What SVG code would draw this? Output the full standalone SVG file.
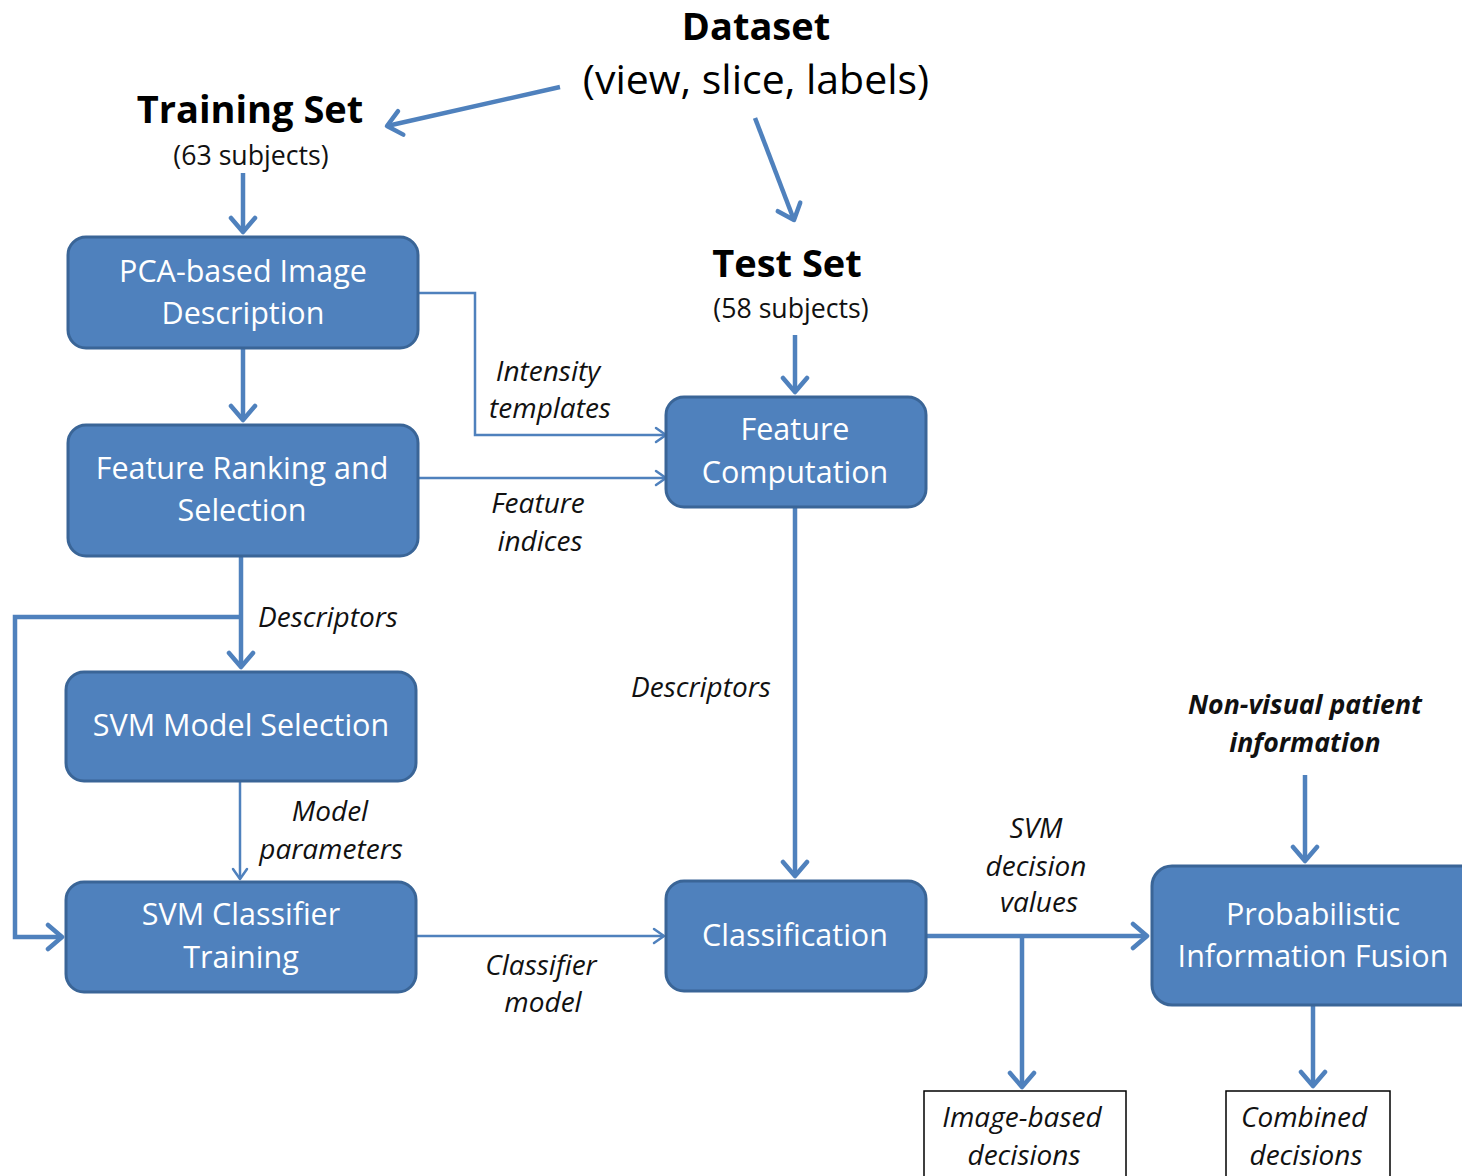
<svg xmlns="http://www.w3.org/2000/svg" width="1462" height="1176" viewBox="0 0 1462 1176">
<defs>
<style>
.box{fill:#4F81BD;stroke:#3A6597;stroke-width:3}
.wbox{fill:#fff;stroke:#000;stroke-width:1.5}
.bt{font-family:"Open Sans",Lato,sans-serif;font-size:30.5px;fill:#fff;text-anchor:middle}
.lbl{font-family:"Open Sans",Lato,sans-serif;font-size:28px;font-style:italic;fill:#111;text-anchor:middle}
.head{font-family:"Open Sans",Lato,sans-serif;font-size:38px;font-weight:bold;fill:#000;text-anchor:middle}
.sub{font-family:"Open Sans",Lato,sans-serif;font-size:26.7px;fill:#111;text-anchor:middle}
.thick{fill:none;stroke:#4F81BD;stroke-width:4.5;marker-end:url(#ah)}
.thin{fill:none;stroke:#4F81BD;stroke-width:2.5;marker-end:url(#at)}
</style>
<marker id="ah" markerUnits="userSpaceOnUse" markerWidth="30" markerHeight="30" viewBox="-16 -15 20 30" refX="0" refY="0" orient="auto">
<path d="M-14,-12 L0,0 L-14,12" fill="none" stroke="#4F81BD" stroke-width="4.5" stroke-linecap="round" stroke-linejoin="round"/>
</marker>
<marker id="at" markerUnits="userSpaceOnUse" markerWidth="20" markerHeight="20" viewBox="-12 -10 14 20" refX="0" refY="0" orient="auto">
<path d="M-10,-7 L0,0 L-10,7" fill="none" stroke="#4F81BD" stroke-width="2.5" stroke-linecap="round" stroke-linejoin="round"/>
</marker>
</defs>
<rect width="1462" height="1176" fill="#fff"/>

<g id="connectors">
<line class="thick" x1="560" y1="87" x2="387" y2="126"/>
<line class="thick" x1="755" y1="118" x2="794" y2="220"/>
<line class="thick" x1="243" y1="173" x2="243" y2="232"/>
<line class="thick" x1="243" y1="349" x2="243" y2="420"/>
<line class="thick" x1="795" y1="335" x2="795" y2="392"/>
<polyline class="thin" points="418,293 475,293 475,435 666,435"/>
<line class="thin" x1="418" y1="478" x2="666" y2="478"/>
<line class="thick" x1="241" y1="557" x2="241" y2="667"/>
<polyline class="thick" points="241,617 15,617 15,937 62,937"/>
<line class="thin" x1="240" y1="782" x2="240" y2="879"/>
<line class="thin" x1="417" y1="936" x2="664" y2="936"/>
<line class="thick" x1="795" y1="508" x2="795" y2="876"/>
<line class="thick" x1="926" y1="936" x2="1147" y2="936"/>
<line class="thick" x1="1022" y1="936" x2="1022" y2="1087"/>
<line class="thick" x1="1305" y1="775" x2="1305" y2="861"/>
<line class="thick" x1="1313" y1="1006" x2="1313" y2="1086"/>
</g>

<g id="dataset">
<text class="head" x="756" y="40">Dataset</text>
<text class="head" x="756" y="94" style="font-weight:normal;font-size:41px">(view, slice, labels)</text>
</g>
<g id="training-set">
<text class="head" x="250" y="123">Training Set</text>
<text class="sub" x="251" y="165">(63 subjects)</text>
</g>
<g id="test-set">
<text class="head" x="787" y="277">Test Set</text>
<text class="sub" x="791" y="318">(58 subjects)</text>
</g>

<g id="pca">
<rect class="box" x="68" y="237" width="350" height="111" rx="18"/>
<text class="bt" x="243" y="282">PCA-based Image</text>
<text class="bt" x="243" y="324">Description</text>
</g>
<g id="ranking">
<rect class="box" x="68" y="425" width="350" height="131" rx="18"/>
<text class="bt" x="242" y="479">Feature Ranking and</text>
<text class="bt" x="242" y="521">Selection</text>
</g>
<g id="svm-model">
<rect class="box" x="66" y="672" width="350" height="109" rx="18"/>
<text class="bt" x="241" y="736">SVM Model Selection</text>
</g>
<g id="svm-train">
<rect class="box" x="66" y="882" width="350" height="110" rx="18"/>
<text class="bt" x="241" y="925">SVM Classifier</text>
<text class="bt" x="241" y="968">Training</text>
</g>
<g id="feature-comp">
<rect class="box" x="666" y="397" width="260" height="110" rx="18"/>
<text class="bt" x="795" y="440">Feature</text>
<text class="bt" x="795" y="483">Computation</text>
</g>
<g id="classification">
<rect class="box" x="666" y="881" width="260" height="110" rx="18"/>
<text class="bt" x="795" y="946">Classification</text>
</g>
<g id="fusion">
<rect class="box" x="1152" y="866" width="330" height="139" rx="20"/>
<text class="bt" x="1313" y="925">Probabilistic</text>
<text class="bt" x="1313" y="967">Information Fusion</text>
</g>
<g id="image-decisions">
<rect class="wbox" x="924" y="1091" width="202" height="95"/>
<text class="lbl" x="1022" y="1127">Image-based</text>
<text class="lbl" x="1024" y="1165">decisions</text>
</g>
<g id="combined-decisions">
<rect class="wbox" x="1226" y="1091" width="164" height="95"/>
<text class="lbl" x="1304" y="1127">Combined</text>
<text class="lbl" x="1306" y="1165">decisions</text>
</g>

<g id="labels">
<text class="lbl" x="548" y="381">Intensity</text>
<text class="lbl" x="550" y="418">templates</text>
<text class="lbl" x="538" y="513">Feature</text>
<text class="lbl" x="540" y="551">indices</text>
<text class="lbl" x="328" y="627">Descriptors</text>
<text class="lbl" x="701" y="697">Descriptors</text>
<text class="lbl" x="330" y="821">Model</text>
<text class="lbl" x="331" y="859">parameters</text>
<text class="lbl" x="541" y="975">Classifier</text>
<text class="lbl" x="543" y="1012">model</text>
<text class="lbl" x="1036" y="838">SVM</text>
<text class="lbl" x="1036" y="876">decision</text>
<text class="lbl" x="1039" y="912">values</text>
<text class="lbl" x="1305" y="714" style="font-weight:bold;font-size:26.7px">Non-visual patient</text>
<text class="lbl" x="1305" y="752" style="font-weight:bold;font-size:26.7px">information</text>
</g>
</svg>
